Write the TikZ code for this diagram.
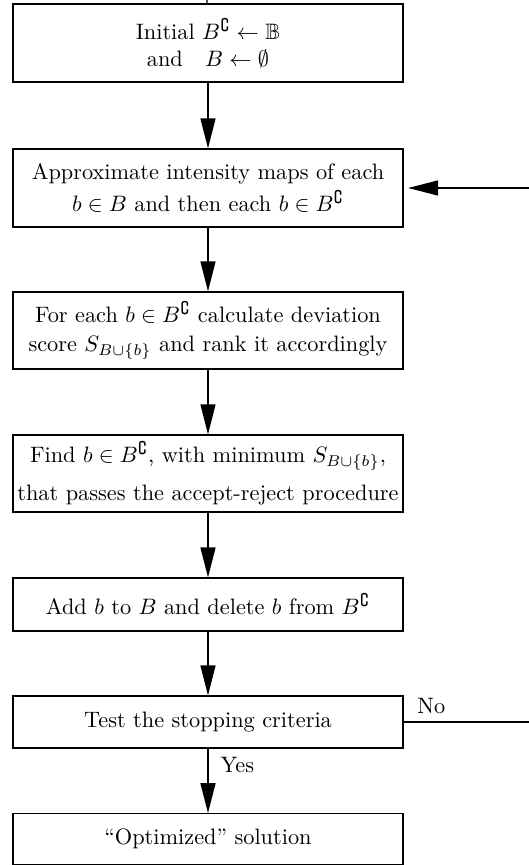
\documentclass[tikz,border=0pt]{standalone}
\usepackage{amssymb}
\usetikzlibrary{arrows.meta}
\tikzset{
  stage/.style={draw,line width=0.6pt,rectangle,align=center,inner sep=1pt,
    minimum width=174.7pt,minimum height=#1},
  stage/.default=34.9pt,
  flow/.style={line width=0.6pt,-{Triangle[length=13.4pt,width=6.7pt]}}
}
\begin{document}
\begin{tikzpicture}[x=0.448pt,y=-0.448pt]
  \useasboundingbox (0,0) rectangle (528,865);
  \node[stage] (init) at (208,43)
    {Initial $B^{\complement}\leftarrow\mathbb{B}$\\ and\quad $B\leftarrow\emptyset$};
  \node[stage] (approx) at (208,188)
    {Approximate intensity maps of each\\[2pt] $b\in B$ and then each $b\in B^{\complement}$};
  \node[stage=34.5pt] (score) at (208,330.5)
    {For each $b\in B^{\complement}$ calculate deviation\\[1pt] score $S_{B\cup\{b\}}$ and rank it accordingly};
  \node[stage=34.5pt] (select) at (208,473.5)
    {Find $b\in B^{\complement}$, with minimum $S_{B\cup\{b\}}$,\\[5pt] that passes the accept-reject procedure};
  \node[stage=23.7pt] (update) at (208,604.5)
    {Add $b$ to $B$ and delete $b$ from $B^{\complement}$};
  \node[stage=23.3pt] (test) at (208,722) {Test the stopping criteria};
  \node[stage=22.6pt] (result) at (208,839) {``Optimized'' solution};
  \coordinate (entry) at (207,0);
  \coordinate (loopright) at (545,0);
  \draw[line width=0.6pt] (entry) -- (init);
  \foreach \from/\to in {init/approx,approx/score,score/select,select/update}
    \draw[flow] (\from) -- (\to);
  \draw[flow] (update) -- (test);
  \draw[flow] (test) -- node[pos=0,anchor=north west,xshift=2pt] {Yes} (result);
  % loop back when the criteria fail
  \draw[flow,shorten >=2pt] (test.east)
    -- node[pos=0,anchor=south west,xshift=2.5pt] {No} (test.east -| loopright)
    |- (approx.east);
\end{tikzpicture}
\end{document}
